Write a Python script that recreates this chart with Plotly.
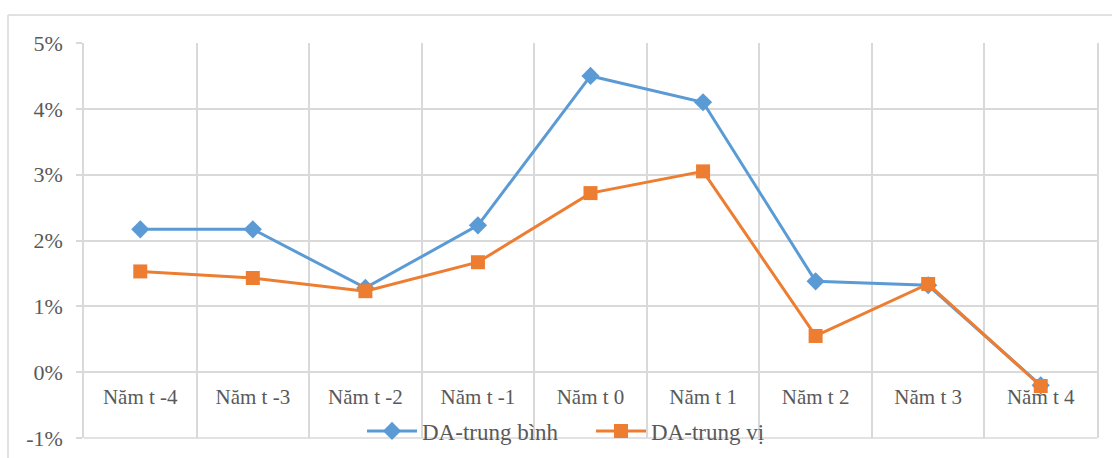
import plotly.graph_objects as go

categories = ["Năm t -4", "Năm t -3", "Năm t -2", "Năm t -1", "Năm t 0",
              "Năm t 1", "Năm t 2", "Năm t 3", "Năm t 4"]
da_mean = [2.17, 2.17, 1.28, 2.23, 4.50, 4.10, 1.38, 1.32, -0.20]
da_median = [1.53, 1.43, 1.23, 1.67, 2.72, 3.05, 0.55, 1.34, -0.21]
y_ticks = [-1, 0, 1, 2, 3, 4, 5]
y_tick_labels = ["-1%", "0%", "1%", "2%", "3%", "4%", "5%"]

W, H = 1112, 458
ML, MT = 84, 43
MR = W - 1097
MB = H - 438
pw, ph = W - ML - MR, H - MT - MB

def px_x(x):
    return (x - ML) / pw

def px_y(y):
    return (H - MB - y) / ph

font_family = "Liberation Serif, Times New Roman, serif"
grey = "#595959"
grid = "#d9d9d9"

fig = go.Figure()
fig.add_trace(go.Scatter(
    x=categories, y=da_mean, name="DA-trung bình", mode="lines+markers",
    line=dict(color="#5b9bd5", width=3),
    marker=dict(symbol="diamond", size=14, color="#5b9bd5"),
))
fig.add_trace(go.Scatter(
    x=categories, y=da_median, name="DA-trung vị", mode="lines+markers",
    line=dict(color="#ed7d31", width=3),
    marker=dict(symbol="square", size=14, color="#ed7d31"),
))

fig.update_layout(
    width=W, height=H,
    margin=dict(l=ML, r=MR, t=MT, b=MB, autoexpand=False),
    paper_bgcolor="white", plot_bgcolor="white",
    font=dict(family=font_family, size=21, color=grey),
    showlegend=True,
    legend=dict(orientation="h", x=px_x(362), xanchor="left", y=px_y(431),
                yanchor="middle", bgcolor="rgba(0,0,0,0)",
                font=dict(family=font_family, size=23, color=grey), itemwidth=50,
                entrywidth=164, entrywidthmode="pixels",
                tracegroupgap=0),
    xaxis=dict(type="category", range=[-0.5, 8.5], tickson="boundaries",
               showgrid=True, gridcolor=grid, gridwidth=1.5, automargin=False,
               ticks="", anchor="free", position=1/6, showline=False,
               tickfont=dict(family=font_family, size=21, color=grey),
               ticklabelstandoff=10),
    yaxis=dict(range=[-1, 5], tickvals=y_ticks, ticktext=y_tick_labels,
               showgrid=True, gridcolor=grid, gridwidth=1.5, zeroline=False,
               automargin=False,
               ticks="outside", ticklen=6, tickcolor=grid, tickwidth=1.5,
               ticklabelstandoff=9,
               showline=True, linecolor=grid, linewidth=1.5, mirror=True,
               tickfont=dict(family=font_family, size=22, color=grey)),
    shapes=[
        dict(type="line", xref="paper", yref="paper", x0=px_x(8), x1=px_x(1130),
             y0=px_y(15), y1=px_y(15), line=dict(color=grid, width=1.5), layer="below"),
        dict(type="line", xref="paper", yref="paper", x0=px_x(8), x1=px_x(8),
             y0=px_y(15), y1=px_y(480), line=dict(color=grid, width=1.5), layer="below"),
        dict(type="line", xref="paper", yref="paper", x0=0, x1=1,
             y0=0, y1=0, line=dict(color=grid, width=1.5), layer="below"),
    ],
)

fig.write_html(
    "out.html",
    config={"displayModeBar": False},
    post_script="document.body.style.margin='0';document.body.style.overflow='hidden';",
)
